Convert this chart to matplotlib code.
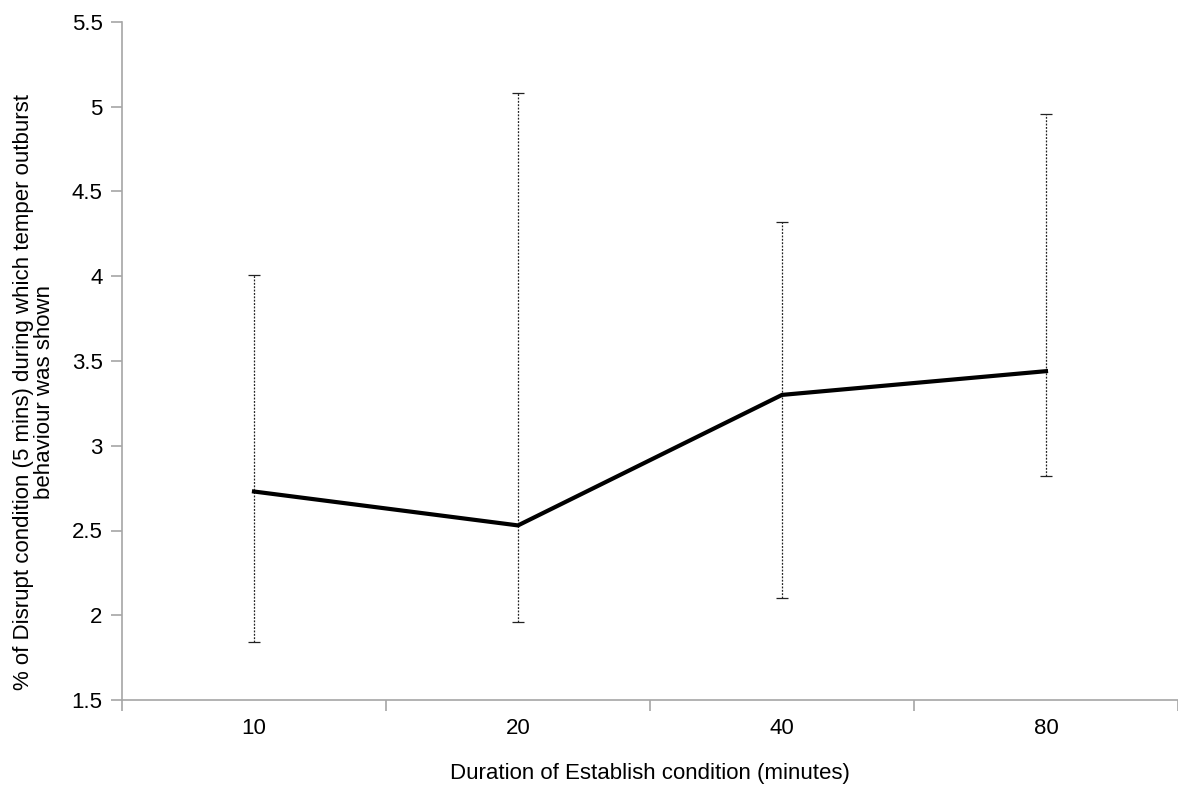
import matplotlib.pyplot as plt
from matplotlib.ticker import FixedLocator

plt.rcParams['font.family'] = ['Liberation Sans', 'DejaVu Sans']

# Datos
categorias = ['10', '20', '40', '80']
medias = [2.73, 2.53, 3.30, 3.44]
err_sup = [4.01, 5.08, 4.32, 4.96]
err_inf = [1.84, 1.96, 2.10, 2.82]

x = list(range(1, len(categorias) + 1))
yerr = [[m - b for m, b in zip(medias, err_inf)],
        [t - m for m, t in zip(medias, err_sup)]]

fig = plt.figure(figsize=(11.78, 7.9), dpi=100)
ax = fig.add_axes([122 / 1178, 1 - 700 / 790, 1 - 122 / 1178, (700 - 22) / 790])

eb = ax.errorbar(x, medias, yerr=yerr, fmt='none', ecolor='#222222',
                 elinewidth=0.9, capsize=4, capthick=0.9)
eb[2][0].set_linestyle((0, (1.5, 1.2)))
ax.plot(x, medias, color='black', linewidth=3)

ax.set_xlim(0.5, 4.5)
ax.set_ylim(1.5, 5.5)
ax.set_yticks([1.5, 2, 2.5, 3, 3.5, 4, 4.5, 5, 5.5])
ax.set_yticklabels(['1.5', '2', '2.5', '3', '3.5', '4', '4.5', '5', '5.5'])

ax.set_xticks(x)
ax.set_xticklabels(categorias)
ax.xaxis.set_minor_locator(FixedLocator([0.5, 1.5, 2.5, 3.5, 4.5]))
ax.tick_params(axis='x', which='major', length=0, pad=13, labelsize=16)
ax.tick_params(axis='x', which='minor', length=8, color='#a6a6a6', width=1.2)
ax.tick_params(axis='y', length=8, color='#a6a6a6', width=1.2, labelsize=16, pad=6)

for lado in ['top', 'right']:
    ax.spines[lado].set_visible(False)
for lado in ['left', 'bottom']:
    ax.spines[lado].set_color('#a6a6a6')
    ax.spines[lado].set_linewidth(1.2)

ax.set_xlabel('Duration of Establish condition (minutes)', fontsize=16, labelpad=17)
ax.set_ylabel('% of Disrupt condition (5 mins) during which temper outburst\nbehaviour was shown',
              fontsize=16, labelpad=12, linespacing=1.0)
ax.yaxis.label.set_y(0.455)

fig.savefig('out.png', dpi=100)
